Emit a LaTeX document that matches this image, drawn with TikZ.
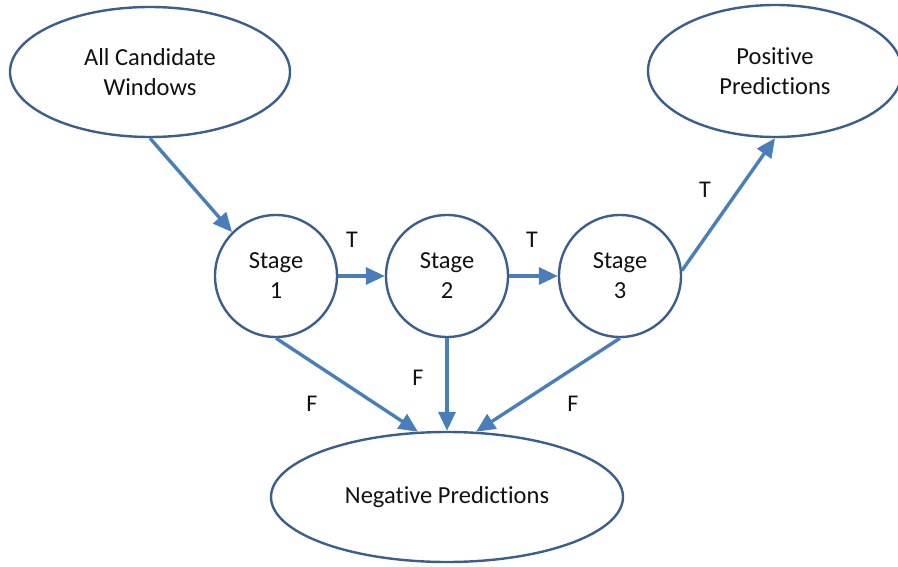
\documentclass[tikz,border=0pt]{standalone}
\usepackage{fontspec}
\setmainfont{Carlito}[Ligatures={NoCommon,NoContextual}]
\usetikzlibrary{arrows.meta,shapes.geometric}
\definecolor{outl}{HTML}{3A5F8C}
\definecolor{arr}{HTML}{4A7EBB}
\definecolor{txt}{HTML}{111111}
\tikzset{
  oval/.style={ellipse, draw=outl, line width=2.4pt, inner sep=0pt, align=center,
    text=txt, font=\fontsize{24.5}{30}\selectfont},
  stagebox/.style={circle, draw=outl, line width=2.4pt, inner sep=0pt, minimum size=122pt,
    align=center, text=txt, font=\fontsize{24.5}{30}\selectfont},
  flow/.style={draw=arr, line width=3.4pt, -{Triangle[length=19pt,width=17pt]}},
  lab/.style={font=\fontsize{24}{26}\selectfont, text=txt, inner sep=0pt}
}
\begin{document}
\begin{tikzpicture}[x=1pt,y=-1pt]
\useasboundingbox (0,0) rectangle (898,567);
\node[oval, minimum width=280pt, minimum height=130pt] (acw) at (150,72) {All Candidate\\Windows};
\node[oval, minimum width=254pt, minimum height=132pt] (pos) at (775,71) {Positive\\Predictions};
\node[oval, minimum width=352pt, minimum height=130pt] (neg) at (447,497) {Negative Predictions};
\node[stagebox] (s1) at (276,276) {Stage\\1};
\node[stagebox] (s2) at (447,276) {Stage\\2};
\node[stagebox] (s3) at (620,276) {Stage\\3};
\draw[flow] (acw.south) -- (s1.135);
\draw[flow] (s1.east) -- (s2.west);
\draw[flow] (s2.east) -- (s3.west);
\draw[flow] (s3.5) -- (pos.south);
\draw[flow] (s1.south) -- (neg.114);
\draw[flow] (s2.south) -- (neg.north);
\draw[flow] (s3.south) -- (neg.66);
\node[lab] (t1) at (352,240) {T};
\node[lab] (t2) at (532,240) {T};
\node[lab] (t3) at (705,190) {T};
\node[lab] (f1) at (312,404) {F};
\node[lab] (f2) at (418,378) {F};
\node[lab] (f3) at (573,404) {F};
\end{tikzpicture}
\end{document}
